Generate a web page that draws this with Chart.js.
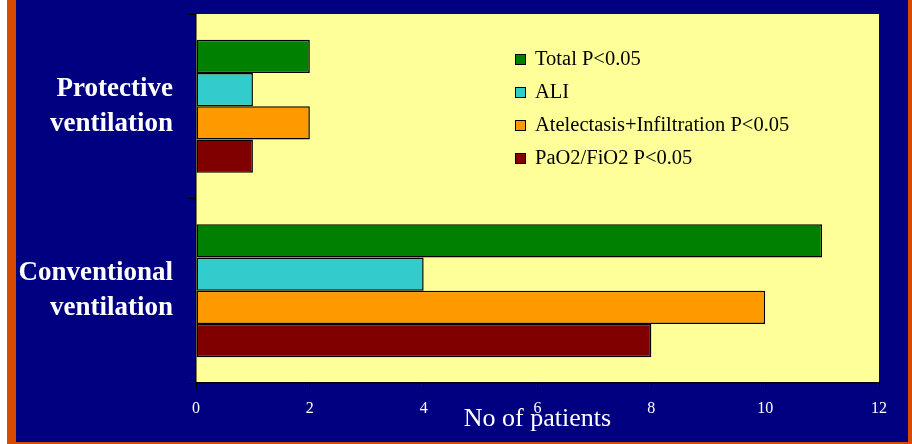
<!DOCTYPE html>
<html>
<head>
<meta charset="utf-8">
<script src="https://cdn.jsdelivr.net/npm/chart.js@4"></script>
<style>
  html, body { margin: 0; padding: 0; background: #ffffff; }
  #wrap { width: 912px; height: 444px; }
</style>
</head>
<body>
<div id="wrap"><canvas id="c" width="912" height="444"></canvas></div>
<script>
const categories = [["Protective", "ventilation"], ["Conventional", "ventilation"]];
const seriesNames = ["Total P<0.05", "ALI", "Atelectasis+Infiltration P<0.05", "PaO2/FiO2 P<0.05"];
const totalValues = [2, 11];
const aliValues = [1, 4];
const atelectasisValues = [2, 10];
const pafiValues = [1, 8];
const xTicks = [0, 2, 4, 6, 8, 10, 12];
const xTitle = "No of patients";

const seriesColors = ["#008000", "#33CCCC", "#FF9900", "#800000"];
const seriesValues = [totalValues, aliValues, atelectasisValues, pafiValues];

const SERIF = "'Liberation Serif', 'Times New Roman', serif";

const backgroundPlugin = {
  id: 'bgPlugin',
  beforeDraw(chart) {
    const ctx = chart.ctx;
    const W = chart.width, H = chart.height;
    ctx.save();
    ctx.fillStyle = '#ffffff';
    ctx.fillRect(0, 0, W, H);
    ctx.fillStyle = '#D84A00';
    ctx.fillRect(7, 0, W - 7, H);
    ctx.fillStyle = '#000080';
    ctx.fillRect(16, 0, 908 - 16, 442);
    const a = chart.chartArea;
    ctx.fillStyle = '#FFFF99';
    ctx.fillRect(a.left, a.top, a.right - a.left, a.bottom - a.top);
    ctx.restore();
  }
};

const legendPlugin = {
  id: 'innerLegend',
  afterDatasetsDraw(chart, args, opts) {
    const ctx = chart.ctx;
    ctx.save();
    ctx.font = '20.5px ' + SERIF;
    ctx.textBaseline = 'middle';
    ctx.textAlign = 'left';
    chart.data.datasets.forEach((ds, i) => {
      const y = opts.y + i * opts.rowGap;
      ctx.fillStyle = ds.backgroundColor;
      ctx.fillRect(opts.x, y - 5, 11, 11);
      ctx.strokeStyle = '#000000';
      ctx.lineWidth = 1;
      ctx.strokeRect(opts.x + 0.5, y - 4.5, 10, 10);
      ctx.fillStyle = '#000000';
      ctx.fillText(ds.label, opts.x + 20, y + 1);
    });
    ctx.restore();
  }
};

new Chart(document.getElementById('c'), {
  type: 'bar',
  data: {
    labels: categories,
    datasets: seriesNames.map((name, i) => ({
      label: name,
      data: seriesValues[i],
      backgroundColor: seriesColors[i],
      borderColor: '#000000',
      borderWidth: 1.5,
      borderSkipped: false,
      categoryPercentage: 0.72,
      barPercentage: 1.0
    }))
  },
  options: {
    indexAxis: 'y',
    responsive: false,
    animation: false,
    devicePixelRatio: 1,
    layout: { padding: { left: 16, right: 33, top: 14, bottom: 0 } },
    plugins: {
      legend: { display: false },
      tooltip: { enabled: false },
      title: { display: false },
      innerLegend: { x: 515, y: 59, rowGap: 33 }
    },
    scales: {
      x: {
        min: 0,
        max: 12,
        afterBuildTicks(scale) { scale.ticks = xTicks.map(v => ({ value: v })); },
        afterFit(scale) { scale.height = 61; },
        grid: { drawOnChartArea: false, color: '#000000', tickLength: 7, lineWidth: 1 },
        border: { display: true, color: '#000000', width: 1.5 },
        ticks: { color: '#ffffff', font: { family: SERIF, size: 16 }, padding: 9, maxRotation: 0 },
        title: {
          display: true,
          text: xTitle,
          color: '#ffffff',
          font: { family: SERIF, size: 26 },
          padding: { top: 0, bottom: 9 }
        }
      },
      y: {
        afterFit(scale) { scale.width = 180; scale.paddingTop = 0; scale.paddingBottom = 0; },
        grid: { drawOnChartArea: false, color: '#000000', tickLength: 8, offset: true },
        border: { display: true, color: '#000000', width: 1.5 },
        ticks: {
          color: '#ffffff',
          font: { family: SERIF, size: 27, weight: 'bold', lineHeight: 1.3 },
          padding: 15
        }
      }
    }
  },
  plugins: [backgroundPlugin, legendPlugin]
});
</script>
</body>
</html>
